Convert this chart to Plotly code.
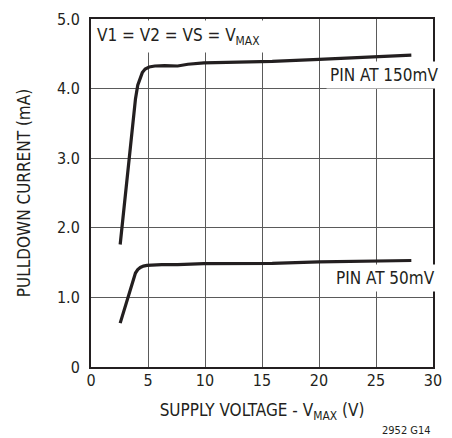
import plotly.graph_objects as go

# Pulldown current vs supply voltage, two pin voltages
v_150 = [2.56, 3.05, 3.6, 3.9, 4.1, 4.3, 4.5, 4.75, 5.1, 5.6, 6.45, 7.6, 8.5, 9.9, 12.5, 15.9, 20.0, 25.0, 28.1]
i_150 = [1.76, 2.55, 3.42, 3.85, 4.05, 4.16, 4.23, 4.28, 4.31, 4.325, 4.33, 4.325, 4.35, 4.37, 4.38, 4.39, 4.42, 4.45, 4.48]

v_50 = [2.56, 3.05, 3.62, 3.9, 4.1, 4.33, 4.6, 4.9, 6.2, 7.6, 9.9, 15.9, 20.0, 28.1]
i_50 = [0.63, 0.90, 1.235, 1.35, 1.40, 1.43, 1.45, 1.46, 1.47, 1.47, 1.485, 1.49, 1.51, 1.53]

x_ticks = [0, 5, 10, 15, 20, 25, 30]
y_ticks = [0, 1, 2, 3, 4, 5]
y_tick_text = ["0", "1.0", "2.0", "3.0", "4.0", "5.0"]

FONT = "Liberation Sans Narrow, DejaVu Sans Condensed, Arial Narrow, sans-serif"
INK = "#231f20"
GRID = "#5a5a5a"

fig = go.Figure()
fig.add_trace(go.Scatter(x=v_150, y=i_150, mode="lines",
                         line=dict(color=INK, width=3.2), showlegend=False))
fig.add_trace(go.Scatter(x=v_50, y=i_50, mode="lines",
                         line=dict(color=INK, width=3.2), showlegend=False))

fig.update_layout(
    width=452, height=438,
    margin=dict(l=91, r=10, t=15, b=71),
    paper_bgcolor="white", plot_bgcolor="white",
    font=dict(family=FONT, size=16, color=INK),
    xaxis=dict(
        range=[0, 30], tickvals=x_ticks, showgrid=True, gridcolor=GRID, gridwidth=1,
        showline=True, linecolor=INK, linewidth=2, mirror=True, zeroline=False,
        ticks="", ticklabelstandoff=-2,
        title=dict(text="SUPPLY VOLTAGE - V<sub>MAX</sub> (V)", standoff=15,
                   font=dict(size=17)),
    ),
    yaxis=dict(
        range=[0, 5], tickvals=y_ticks, ticktext=y_tick_text, showgrid=True,
        gridcolor=GRID, gridwidth=1, showline=True, linecolor=INK, linewidth=2,
        mirror=True, zeroline=False, ticks="", ticklabelstandoff=6,
        title=dict(text="PULLDOWN CURRENT (mA)", standoff=22, font=dict(size=17)),
    ),
)

# Condition and curve labels on white boxes
fig.add_annotation(text="V1 = V2 = VS = V<sub>MAX</sub>", xref="paper", yref="paper",
                   x=0.003, y=0.997, xanchor="left", yanchor="top", showarrow=False,
                   bgcolor="white", borderpad=4, font=dict(size=17))
fig.add_annotation(text="PIN AT 150mV", xref="paper", yref="y",
                   x=1.025, y=4.2, xanchor="right", yanchor="middle", showarrow=False,
                   bgcolor="white", borderpad=3, font=dict(size=17))
fig.add_annotation(text="PIN AT 50mV", xref="paper", yref="y",
                   x=1.017, y=1.28, xanchor="right", yanchor="middle", showarrow=False,
                   bgcolor="white", borderpad=3, font=dict(size=17))
fig.add_annotation(text="2952 G14", xref="paper", yref="paper",
                   x=1.0, y=-0.206, xanchor="right", yanchor="bottom", showarrow=False,
                   font=dict(size=11))

fig.write_html("out.html")
